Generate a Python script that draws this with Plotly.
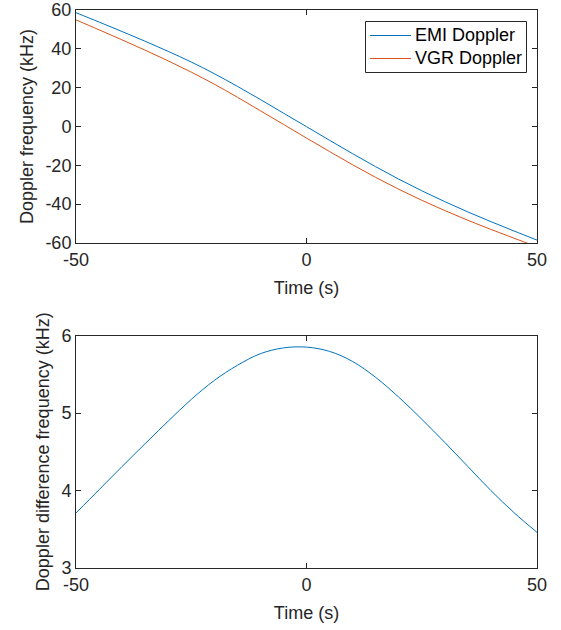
import plotly.graph_objects as go
from plotly.subplots import make_subplots

# ---- data ----
time_s = [-50, -45, -40, -35, -30, -25, -20, -15, -10, -5, 0,
          5, 10, 15, 20, 25, 30, 35, 40, 45, 50]
emi_doppler_khz = [58.6, 53.8, 48.9, 43.9, 38.7, 33.2, 27.2, 20.7, 13.9, 6.9, -0.1,
                   -7.1, -14.0, -20.7, -27.1, -33.1, -38.7, -44.0, -49.0, -53.8, -58.5]
vgr_doppler_khz = [54.9, 49.8, 44.6, 39.3, 33.8, 28.0, 21.8, 15.1, 8.1, 1.1, -5.95,
                   -12.9, -19.7, -26.2, -32.3, -38.0, -43.3, -48.3, -53.0, -57.5, -62.0]
diff_doppler_khz = [3.71, 4.01, 4.31, 4.605, 4.895, 5.175, 5.42, 5.615, 5.765, 5.84, 5.85,
                    5.795, 5.665, 5.46, 5.205, 4.92, 4.62, 4.31, 4.00, 3.715, 3.46]
series_names = ["EMI Doppler", "VGR Doppler"]

x_tickvals = [-50, 0, 50]
x_ticktext = ["-50", "0", "50"]
y1_tickvals = [-60, -40, -20, 0, 20, 40, 60]
y1_ticktext = ["-60", "-40", "-20", "0", "20", "40", "60"]
y2_tickvals = [3, 4, 5, 6]
y2_ticktext = ["3", "4", "5", "6"]

BLUE = "#0072BD"
ORANGE = "#D95319"
AX = "#262626"
FONT = "Liberation Sans, Arial, sans-serif"

W, H = 561, 630
ml, mr, mt, mb = 76, 24, 10, 62
plot_w = W - ml - mr
plot_h = H - mt - mb


def fx(px):
    return (px - ml) / plot_w


def fy(py):
    return (H - mb - py) / plot_h


fig = make_subplots(rows=2, cols=1)

line_style = dict(width=1, shape="spline", smoothing=1.0)
colors = [BLUE, ORANGE]
for name, vals, col in zip(series_names, [emi_doppler_khz, vgr_doppler_khz], colors):
    fig.add_trace(go.Scatter(x=time_s, y=vals, mode="lines", name=name, showlegend=False,
                             line=dict(color=col, **line_style)), row=1, col=1)
fig.add_trace(go.Scatter(x=time_s, y=diff_doppler_khz, mode="lines", showlegend=False,
                         name="Doppler difference",
                         line=dict(color=BLUE, **line_style)), row=2, col=1)

axis_common = dict(
    showgrid=False, zeroline=False, showline=True, linecolor=AX, linewidth=1,
    mirror="ticks", ticks="inside", ticklen=5, tickcolor=AX, tickwidth=1,
    tickfont=dict(family=FONT, size=18, color=AX),
    title_font=dict(family=FONT, size=18, color=AX),
    automargin=False,
)

fig.update_xaxes(**axis_common, range=[-50, 50], tickmode="array",
                 tickvals=x_tickvals, ticktext=x_ticktext,
                 title_text="Time (s)", title_standoff=12)
fig.update_yaxes(**axis_common)

fig.update_yaxes(range=[-60, 60], tickmode="array", tickvals=y1_tickvals,
                 ticktext=y1_ticktext, title_text="Doppler frequency (kHz)",
                 title_standoff=7, domain=[fy(243), 1.0], row=1, col=1)
fig.update_yaxes(range=[3, 6], tickmode="array", tickvals=y2_tickvals,
                 ticktext=y2_ticktext, title_text="Doppler difference frequency (kHz)",
                 title_standoff=7, domain=[0.0, fy(335.5)], row=2, col=1)

# legend box (MATLAB style), drawn in paper coordinates
shapes = [dict(type="rect", xref="paper", yref="paper",
               x0=fx(365.5), x1=fx(526.5), y0=fy(72.5), y1=fy(21.5),
               line=dict(color=AX, width=1), fillcolor="white", layer="above")]
annotations = []
row_y = [35.5, 58.5]
for name, col, ry in zip(series_names, colors, row_y):
    shapes.append(dict(type="line", xref="paper", yref="paper",
                       x0=fx(370), x1=fx(411), y0=fy(ry), y1=fy(ry),
                       line=dict(color=col, width=1), layer="above"))
    annotations.append(dict(xref="paper", yref="paper", x=fx(413), y=fy(ry),
                            xanchor="left", yanchor="middle", text=name, showarrow=False,
                            font=dict(family=FONT, size=18, color="black")))

fig.update_layout(
    width=W, height=H,
    margin=dict(l=ml, r=mr, t=mt, b=mb, pad=0, autoexpand=False),
    paper_bgcolor="white", plot_bgcolor="white",
    font=dict(family=FONT, size=18, color=AX),
    showlegend=False,
    shapes=shapes,
    annotations=annotations,
)

fig.write_html("out.html", config={"displayModeBar": False},
               post_script="document.body.style.margin='0px';document.body.style.padding='0px';")
